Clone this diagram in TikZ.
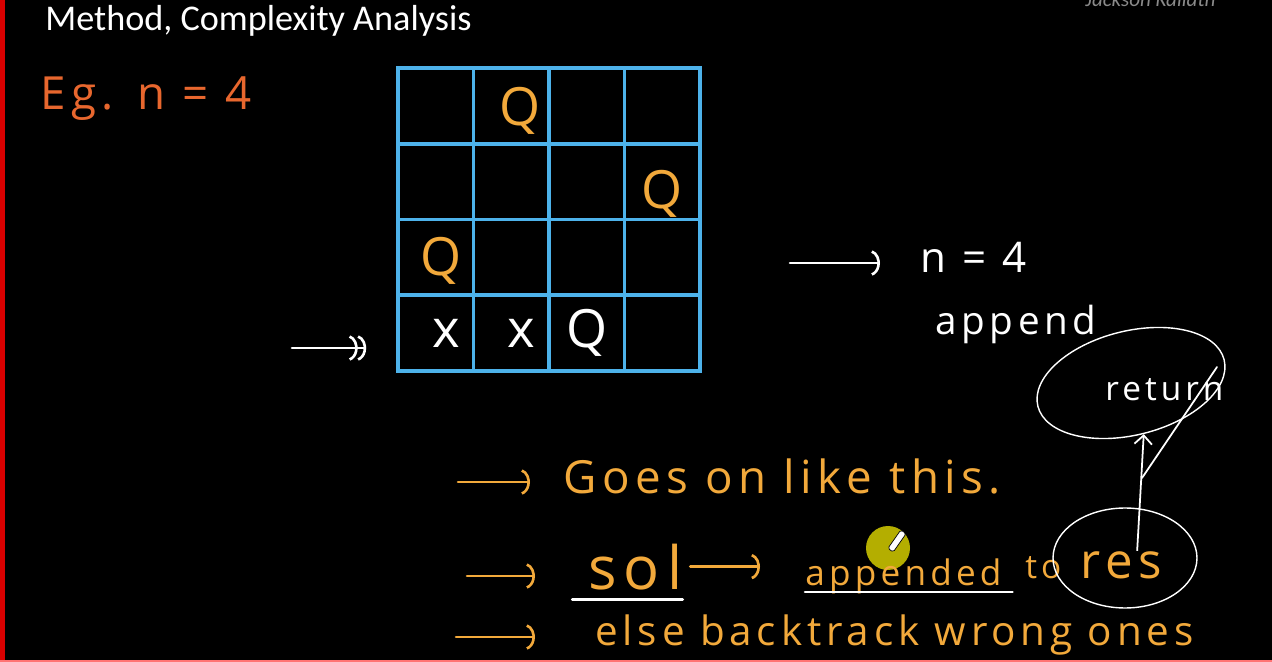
\documentclass[tikz,border=0pt]{standalone}
\usepackage{fontspec}
\setmainfont{Carlito}
\newfontfamily\handfont[LetterSpace=12]{Open Sans}
\usetikzlibrary{arrows.meta, positioning, shapes.geometric}

\definecolor{chalkblue}{HTML}{4DB2EA}
\definecolor{penorange}{HTML}{F2A93B}
\definecolor{penred}{HTML}{E8672E}
\definecolor{markgrey}{HTML}{8A8A8A}
\definecolor{cursor}{HTML}{C8C200}

\begin{document}
\begin{tikzpicture}[
	  x=0.02cm, y=-0.02cm,
	  ink/.style={font=\handfont\fontsize{#1}{#1}\selectfont, inner sep=0pt},
	  note/.style={ink=#1, text=penorange, anchor=base west},
	  chalk/.style={ink=#1, text=white, anchor=base west},
	  queen/.style={ink=30, text=penorange},
	  cell/.style={draw=chalkblue, line width=2pt, minimum width=1.51cm, minimum height=1.515cm, inner sep=0pt},
	  bubble/.style={ellipse, draw=white, line width=0.8pt, inner sep=0pt},
	  arrow/.style={draw=penorange, line width=1.5pt, line cap=round, -{Arc Barb[length=6pt, width=15pt, arc=150]}},
	  chalkarrow/.style={arrow, draw=white},
	  uline/.style={draw=white, line width=1.5pt, line cap=round}
	]

	% board
	\useasboundingbox (0,0) rectangle (1272,662);
	\fill[black] (0,0) rectangle (1272,662);
	\fill[red!85!black] (0,0) rectangle (5,662);
	\draw[red!55, line width=0.6pt] (0,661) -- (1272,661);

	\node (title) [anchor=base west, inner sep=0pt, text=white, font=\fontsize{20.6}{22}\selectfont] at (45,31) {Method, Complexity Analysis};
	\node (mark) [anchor=base west, inner sep=0pt, text=markgrey, font=\itshape\fontsize{12}{14}\selectfont] at (1085,7) {Jackson Kallath};
	\node (eg) [ink=26, text=penred, anchor=base west] at (40,110) {Eg. n = 4};

	% the 4x4 board
	\foreach \r in {1,...,4}
	  \foreach \c in {1,...,4}
	    \node (c-\r-\c) [cell] at ({398+75.5*(\c-0.5)}, {68+75.75*(\r-0.5)}) {};

	\node (q1) [queen, xshift=5pt, yshift=-3pt] at (c-1-2) {Q};
	\node (q2) [queen, yshift=-7pt] at (c-2-4) {Q};
	\node (q3) [queen, xshift=3pt, yshift=-2pt] at (c-3-1) {Q};
	\node (x1) [queen, text=white, xshift=6pt] at (c-4-1) {x};
	\node (x2) [queen, text=white, xshift=6pt] at (c-4-2) {x};
	\node (q4) [queen, text=white] at (c-4-3) {Q};

	\coordinate (pick) at (292,348);
	\draw [chalkarrow, -{Arc Barb[length=6pt, width=15pt, arc=150] Arc Barb[length=6pt, width=15pt, arc=150]}, shorten >=0.6cm] (pick) -- (pick -| c-4-1.west);

	% right side
	\node (nfour) [chalk=24, anchor=west] at (920,257) {n = 4};
	\coordinate (s1) at (790,263);
	\draw [chalkarrow, shorten >=0.8cm] (s1) -- (s1 -| nfour.west);
	\node (append) [chalk=22] at (935,335) {append};
	\node (ret) [chalk=19] at (1105,400) {return};
	\node (retring) [bubble, rotate=14, minimum width=3.84cm, minimum height=2.08cm] at (1131,383) {};
	\draw [white, line width=1pt, line cap=round] (1142,478) -- (1217,367);

	% notes
	\node (goes) [note=26] at (563,493) {Goes on like this.};
	\coordinate (a1) at (458,482);
	\draw [arrow, shorten >=0.66cm] (a1) -- (a1 -| goes.west);

	\fill[cursor, opacity=0.9] (888,548) circle [radius=0.44cm];
	\node (pen) [draw=black, fill=white, rounded corners=1pt, minimum width=0.45cm, minimum height=0.13cm, inner sep=0pt, rotate=55] at (897,541) {};

	\node (sol) [note=34] at (588,589) {sol};
	\node (appended) [note=20] at (805,585) {appended};
	\node (to) [note=19] at (1025,578) {to};
	\node (res) [note=28] at (1080,578) {res};
	\coordinate (a2) at (467,576);
	\draw [arrow, shorten >=1.06cm] (a2) -- (a2 -| sol.west);
	\draw [arrow, shorten <=0.15cm, shorten >=0.9cm] (sol.east) -- (sol.east -| appended.west);
	\draw [uline] ([xshift=-9pt, yshift=-6pt]sol.base west) -- ([yshift=-6pt]sol.base east);
	\draw [uline] ([yshift=-4pt]appended.base west) -- ([xshift=6pt, yshift=-4pt]appended.base east);
	\node (resring) [bubble, minimum width=2.88cm, minimum height=2cm] at (1125,558) {};
	\draw [white, line width=1pt, -{Straight Barb[length=5pt, width=10pt]}] ([xshift=9pt]res.north) -- (retring.south);

	\node (else) [note=23] at (595,645) {else backtrack wrong ones};
	\coordinate (a3) at (456,637);
	\draw [arrow, shorten >=1.2cm] (a3) -- (a3 -| else.west);

	\end{tikzpicture}
\end{document}
